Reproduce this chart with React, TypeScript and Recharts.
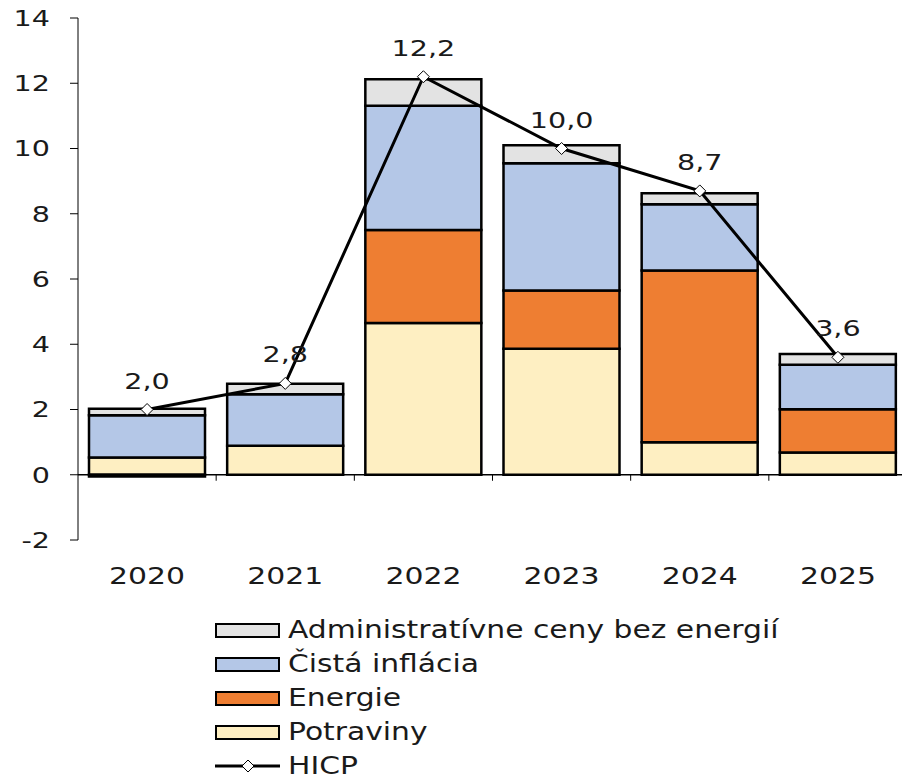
import {
  ComposedChart,
  Bar,
  Line,
  XAxis,
  YAxis,
  ReferenceLine,
  LabelList,
} from "recharts";

const YEARS = ["2020", "2021", "2022", "2023", "2024", "2025"];
const POTRAVINY = [0.53, 0.89, 4.65, 3.86, 1.0, 0.68];
const ENERGIE = [-0.05, 0, 2.85, 1.79, 5.26, 1.33];
const CISTA = [1.29, 1.58, 3.81, 3.9, 2.03, 1.36];
const ADMIN = [0.2, 0.32, 0.81, 0.55, 0.34, 0.33];
const HICP = [2.0, 2.8, 12.2, 10.0, 8.7, 3.6];
const Y_TICKS = [-2, 0, 2, 4, 6, 8, 10, 12, 14];

const FONT = "'DejaVu Sans', Verdana, sans-serif";
const INK = "#1a1a1a";
// the source picture is stretched sideways, so text is widened to match
const STRETCH = 1.3;
const LEGEND_STRETCH = 1.24;

const SERIES = [
  { key: "potraviny", name: "Potraviny", color: "#FEEFC2" },
  { key: "energie", name: "Energie", color: "#EE7E32" },
  { key: "cista", name: "Čistá inflácia", color: "#B4C7E7" },
  { key: "admin", name: "Administratívne ceny bez energií", color: "#E3E3E3" },
];

const data = YEARS.map((year, i) => ({
  year,
  potraviny: POTRAVINY[i],
  energie: ENERGIE[i],
  cista: CISTA[i],
  admin: ADMIN[i],
  hicp: HICP[i],
}));

const fmt = (v: number) => v.toFixed(1).replace(".", ",");

function YTick({ x, y, payload }: any) {
  return (
    <g transform={`translate(${x},${y}) scale(${STRETCH},1)`}>
      <text x={0} y={0} dy="0.36em" textAnchor="end" fontSize={22} fontFamily={FONT} fill={INK}>
        {payload.value}
      </text>
    </g>
  );
}

function XTick({ x, y, payload }: any) {
  return (
    <g transform={`translate(${x},${y}) scale(${STRETCH},1)`}>
      <text x={0} y={36} textAnchor="middle" fontSize={23} fontFamily={FONT} fill={INK}>
        {payload.value}
      </text>
    </g>
  );
}

function HicpLabel({ x, y, value }: any) {
  return (
    <g transform={`translate(${x},${y - 21}) scale(${STRETCH},1)`}>
      <text x={0} y={0} textAnchor="middle" fontSize={22} fontFamily={FONT} fill={INK}>
        {fmt(Number(value))}
      </text>
    </g>
  );
}

function Diamond({ cx, cy }: any) {
  if (cx == null || cy == null) return null;
  return (
    <polygon
      points={`${cx},${cy - 6} ${cx + 6},${cy} ${cx},${cy + 6} ${cx - 6},${cy}`}
      fill="#fff"
      stroke="#000"
      strokeWidth={1}
    />
  );
}

// zero line with small tick marks on the category boundaries
function ZeroAxis({ x1, y1, x2 }: any) {
  const step = (x2 - x1) / YEARS.length;
  return (
    <g>
      <line x1={x1} y1={y1} x2={x2} y2={y1} stroke="#000" strokeWidth={1.5} />
      {YEARS.map((_, i) => (
        <line
          key={i}
          x1={x1 + step * (i + 1)}
          y1={y1}
          x2={x1 + step * (i + 1)}
          y2={y1 + 6}
          stroke="#000"
          strokeWidth={1}
        />
      ))}
    </g>
  );
}

const legendText = {
  fontSize: 24,
  lineHeight: "20px",
  display: "inline-block",
  transform: `scaleX(${LEGEND_STRETCH})`,
  transformOrigin: "left center",
  whiteSpace: "nowrap" as const,
};

function LegendBox() {
  const rows = [...SERIES].reverse();
  return (
    <div style={{ position: "absolute", left: 215, top: 613, fontFamily: FONT, color: INK }}>
      {rows.map((s) => (
        <div key={s.key} style={{ display: "flex", alignItems: "center", height: 34 }}>
          <div
            style={{
              width: 61,
              height: 11,
              background: s.color,
              border: "2px solid #000",
              marginRight: 8,
            }}
          />
          <span style={legendText}>{s.name}</span>
        </div>
      ))}
      <div style={{ display: "flex", alignItems: "center", height: 34 }}>
        <svg width={65} height={16} style={{ marginRight: 8 }}>
          <line x1={0} y1={8} x2={65} y2={8} stroke="#000" strokeWidth={3} />
          <polygon points="33,2 39,8 33,14 27,8" fill="#fff" stroke="#000" strokeWidth={1} />
        </svg>
        <span style={legendText}>HICP</span>
      </div>
    </div>
  );
}

export default function App() {
  return (
    <div
      style={{
        position: "absolute",
        left: 0,
        top: 0,
        width: 902,
        height: 780,
        overflow: "hidden",
        background: "#fff",
      }}
    >
      <ComposedChart
        width={910}
        height={600}
        data={data}
        stackOffset="sign"
        margin={{ top: 18, right: 3, bottom: 0, left: 0 }}
      >
        <XAxis dataKey="year" axisLine={false} tickLine={false} height={60} tick={<XTick />} interval={0} />
        <YAxis
          domain={[-2, 14]}
          ticks={Y_TICKS}
          width={78}
          tickSize={8}
          tickMargin={20}
          stroke="#000"
          tick={<YTick />}
          interval={0}
        />
        {SERIES.map((s) => (
          <Bar
            key={s.key}
            dataKey={s.key}
            name={s.name}
            stackId="a"
            fill={s.color}
            stroke="#000"
            strokeWidth={2.5}
            barSize={116}
            isAnimationActive={false}
          />
        ))}
        <ReferenceLine y={0} shape={<ZeroAxis />} />
        <Line
          dataKey="hicp"
          name="HICP"
          stroke="#000"
          strokeWidth={3}
          dot={<Diamond />}
          activeDot={false}
          isAnimationActive={false}
        >
          <LabelList dataKey="hicp" content={<HicpLabel />} />
        </Line>
      </ComposedChart>
      <LegendBox />
    </div>
  );
}
